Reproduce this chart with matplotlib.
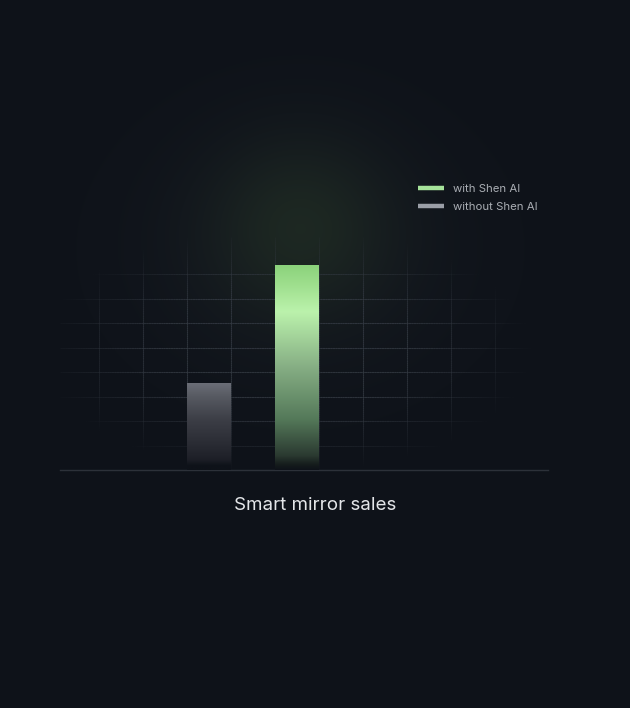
import numpy as np
import matplotlib
matplotlib.use("Agg")
import matplotlib.pyplot as plt
from matplotlib.colors import LinearSegmentedColormap, to_rgb
from matplotlib.collections import LineCollection
from matplotlib.lines import Line2D

# ---- data ----
categories = ["without Shen AI", "with Shen AI"]
values = [3.55, 8.37]          # bar heights in grid units
legend_labels = ["with Shen AI", "without Shen AI"]
chart_title = "Smart mirror sales"

# ---- style ----
BG = "#0e1219"
GRID = "#343a43"
BASE = "#2c3139"
GREEN = "#a6e39a"
GRAY = "#9a9ea6"
TEXT = "#e4e6e9"
LEG_TEXT = "#a9adb3"

W, H, DPI = 630, 708, 100
fig = plt.figure(figsize=(W / DPI, H / DPI), dpi=DPI, facecolor=BG)

# background with soft green glow (decoration)
bg_ax = fig.add_axes([0, 0, 1, 1], zorder=-10)
bg_ax.set_axis_off()
yy, xx = np.mgrid[0:H, 0:W]
bgc = np.array(to_rgb(BG))
glowc = np.array(to_rgb("#1f2b23"))
haze = np.array(to_rgb("#161a21"))
g = np.exp(-(((xx - 300) / 62.0) ** 2 + ((yy - 228) / 60.0) ** 2) / 2)
h = np.exp(-(((xx - 300) / 120.0) ** 2 + ((yy - 250) / 95.0) ** 2) / 2)
img = bgc[None, None, :] * np.ones((H, W, 1))
img = img + (haze - bgc)[None, None, :] * h[..., None] * 0.7
img = img + (glowc - img) * g[..., None] * 0.85
bg_ax.imshow(img, extent=(0, W, H, 0), aspect="auto", interpolation="bilinear")
bg_ax.set_xlim(0, W)
bg_ax.set_ylim(H, 0)

# main axes
ax = fig.add_axes([60 / W, (H - 470) / H, 488 / W, 232.75 / H])
ax.patch.set_alpha(0)
xmin, xmax = -39 / 44, 449 / 44
ax.set_xlim(xmin, xmax)
ax.set_ylim(0, 9.5)
for s in ["top", "right", "left"]:
    ax.spines[s].set_visible(False)
ax.spines["bottom"].set_color(BASE)
ax.spines["bottom"].set_linewidth(1.0)
ax.set_xticks([])
ax.set_yticks([])

xgrid = np.arange(0, 10)
ygrid = np.arange(1, 9)


def vignette(px, py):
    r = np.sqrt(((px - 285) / 250.0) ** 2 + ((py - 350) / 125.0) ** 2)
    return np.clip((1 - r) / 0.5, 0, 1)


def to_px(x, y):
    d = ax.transData.transform(np.column_stack([x, y]))
    return d[:, 0], H - d[:, 1]


segs, cols = [], []
gc = np.array(to_rgb(GRID))
ys = np.linspace(0, 9.5, 120)
for xv in xgrid:
    px, py = to_px(np.full_like(ys, xv), ys)
    a = vignette(px, py)
    for i in range(len(ys) - 1):
        segs.append([(xv, ys[i]), (xv, ys[i + 1])])
        cols.append((*gc, 0.8 * (a[i] + a[i + 1]) / 2))
xs = np.linspace(xmin, xmax, 200)
for yv in ygrid:
    px, py = to_px(xs, np.full_like(xs, yv))
    a = vignette(px, py)
    for i in range(len(xs) - 1):
        segs.append([(xs[i], yv), (xs[i + 1], yv)])
        cols.append((*gc, 0.8 * (a[i] + a[i + 1]) / 2))
ax.add_collection(LineCollection(segs, colors=cols, linewidths=0.8, zorder=1))

# bars with vertical gradients
pos = 2.5 + 2 * np.arange(len(categories))
cmaps = [
    LinearSegmentedColormap.from_list("gray", [
        (0.0, BG), (0.05, BG), (0.12, "#1d1f27"), (0.3, "#2a2c34"),
        (0.58, "#3c3e46"), (0.85, "#575a62"), (1.0, "#6b6e77")]),
    LinearSegmentedColormap.from_list("green", [
        (0.0, BG), (0.025, "#151c1c"), (0.07, "#2b3a31"), (0.25, "#557a5a"),
        (0.5, "#86ae84"), (0.77, "#bbf2ac"), (0.9, "#9fdf8e"), (1.0, "#8ad27b")]),
]
bars = ax.bar(pos, values, width=1.0, color="none", edgecolor="none", zorder=3)
grad = np.linspace(0, 1, 256)[:, None]
for b, cm, v in zip(bars, cmaps, values):
    x0 = b.get_x()
    im = ax.imshow(grad, extent=(x0, x0 + b.get_width(), 0, v), origin="lower",
                   cmap=cm, aspect="auto", interpolation="bilinear", zorder=3)
    im.set_clip_path(b)
ax.set_xlim(xmin, xmax)
ax.set_ylim(0, 9.5)

# legend
handles = [Line2D([], [], color=GREEN, lw=3.2, solid_capstyle="butt"),
           Line2D([], [], color=GRAY, lw=3.2, solid_capstyle="butt")]
fig.legend(handles, legend_labels, loc="upper left",
           bbox_to_anchor=(412 / W, 1 - 178 / H), frameon=False,
           handlelength=2.3, handletextpad=0.8, labelspacing=0.75,
           borderpad=0, prop={"family": "Inter", "size": 8.2}, labelcolor=LEG_TEXT)

fig.text(315 / W, 1 - 505 / H, chart_title, ha="center", va="center",
         color=TEXT, fontsize=13.5, family="Inter")

fig.savefig("out.png", dpi=DPI, facecolor=BG)
